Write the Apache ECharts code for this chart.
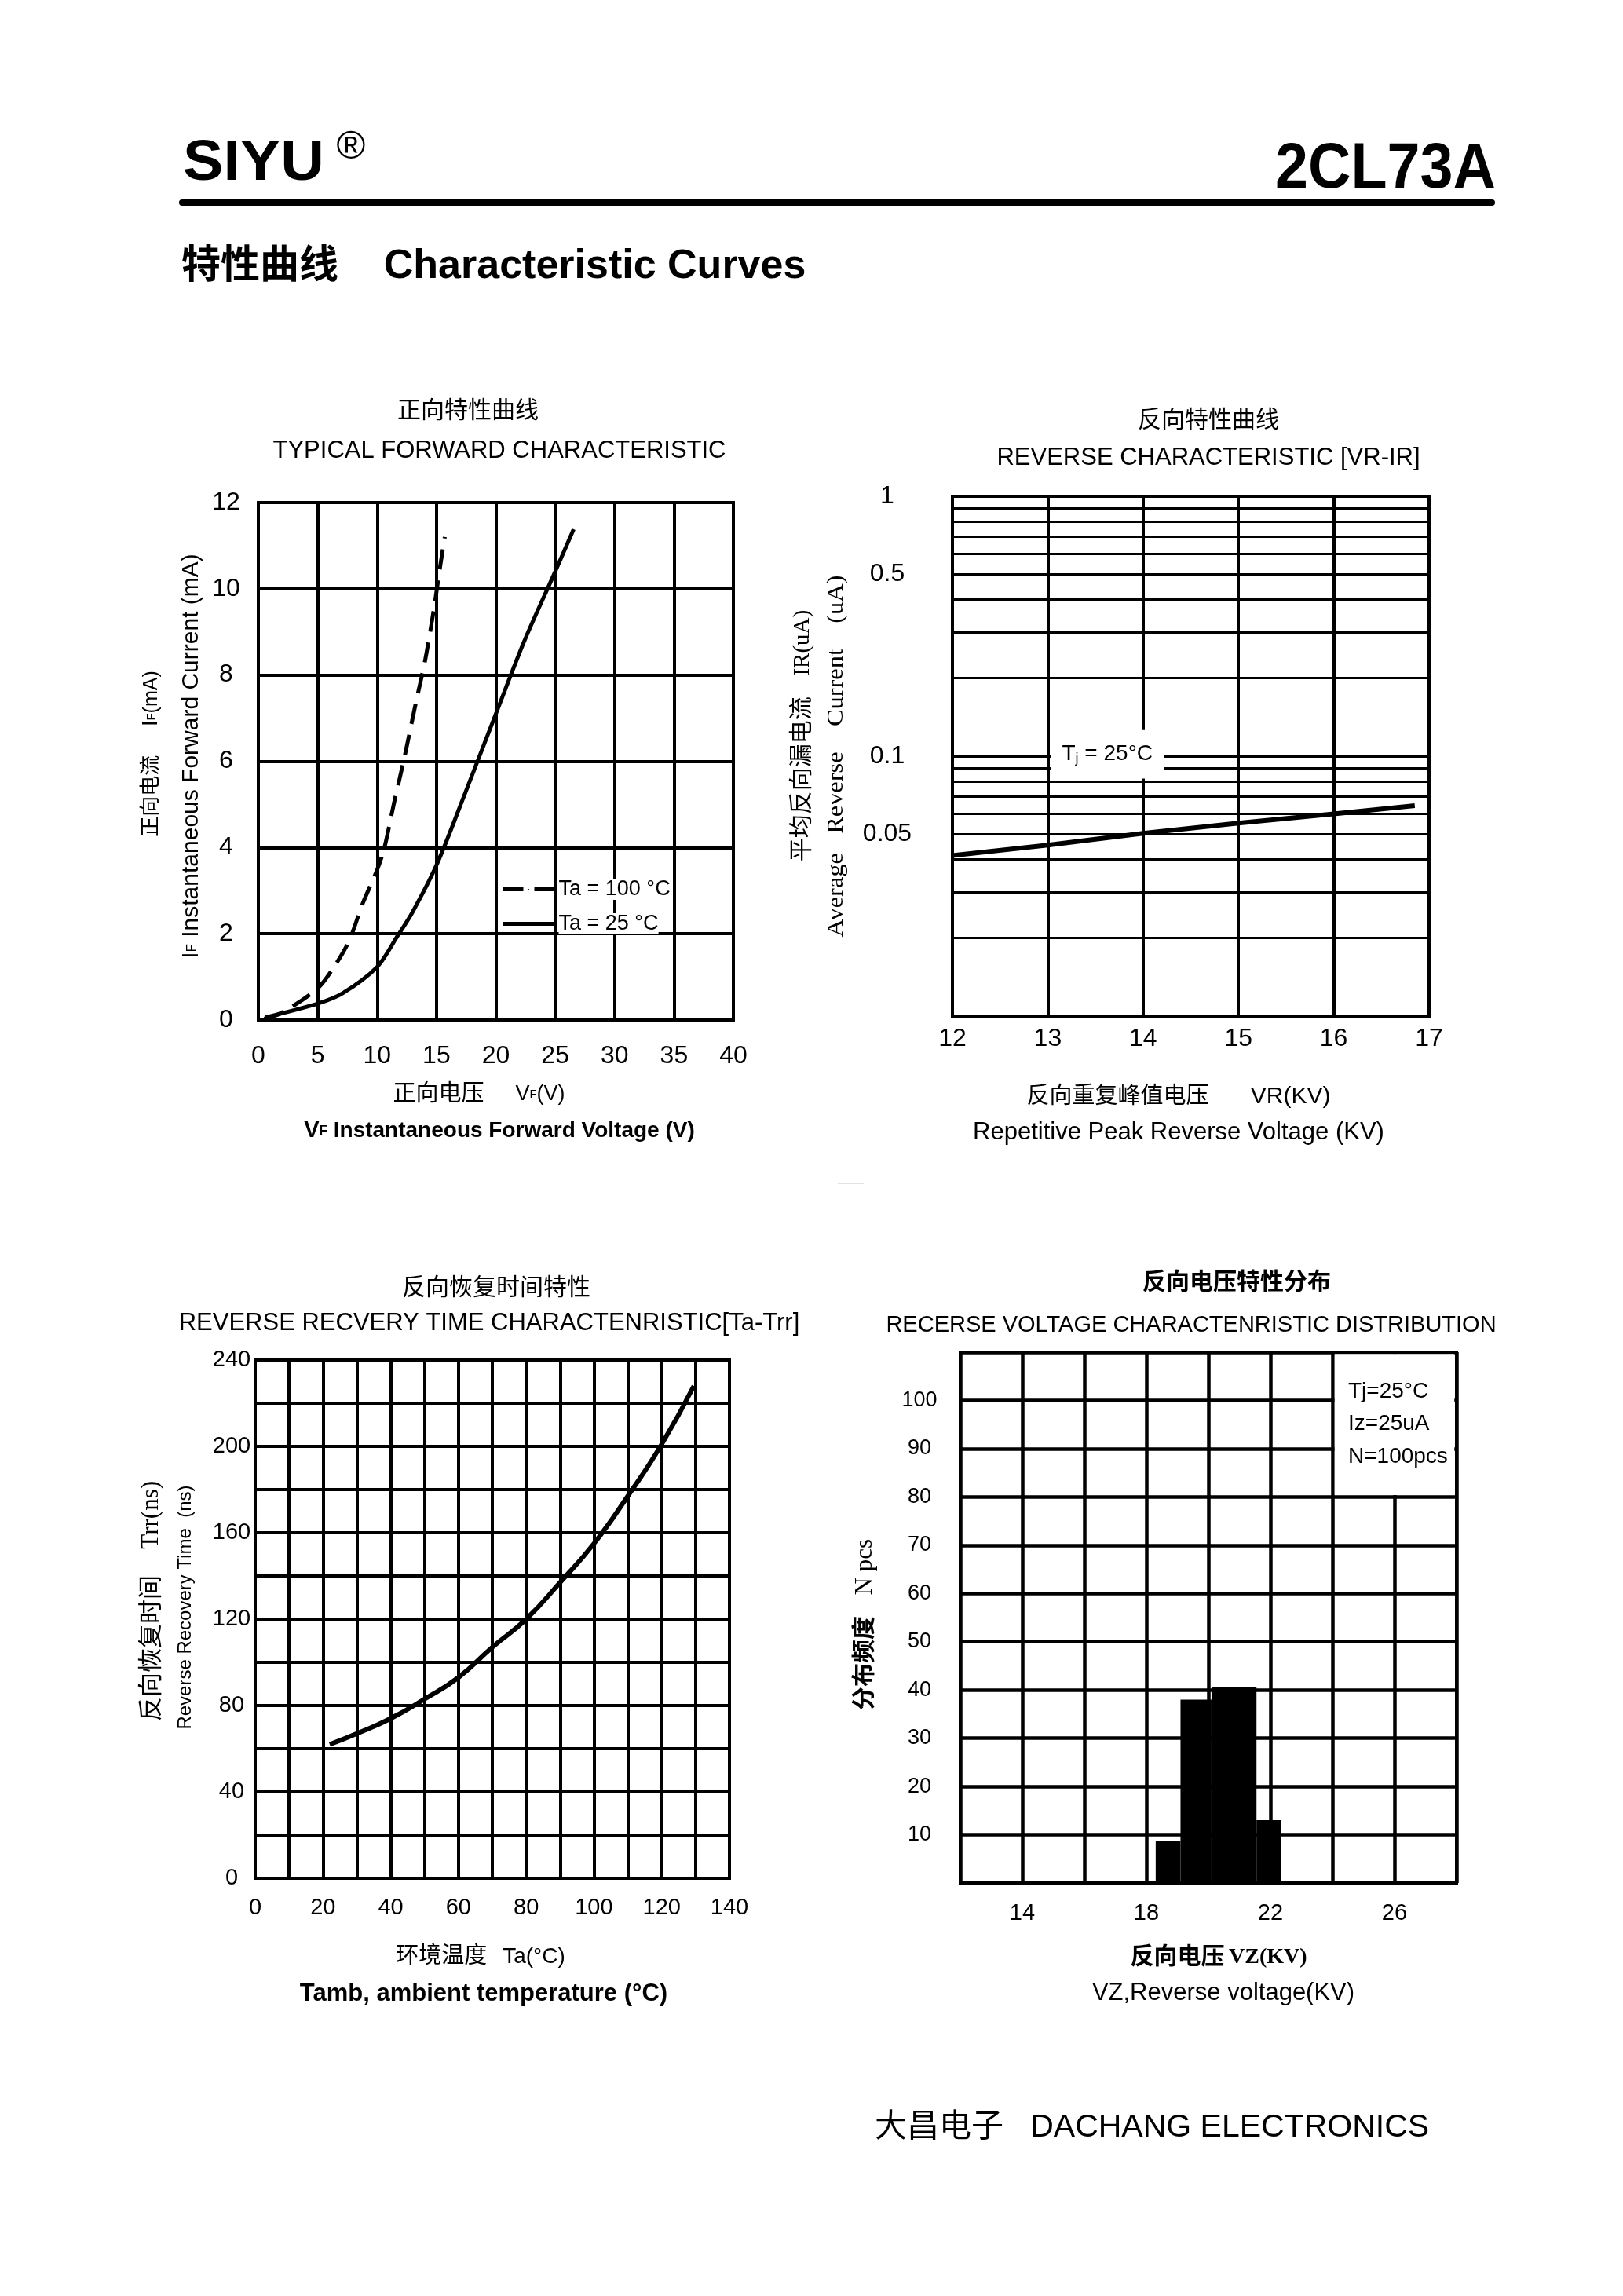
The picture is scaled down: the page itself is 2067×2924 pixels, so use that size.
<!DOCTYPE html>
<html><head><meta charset="utf-8">
<script src="https://cdn.jsdelivr.net/npm/echarts@6/dist/echarts.min.js"></script>
<style>html,body{margin:0;padding:0;background:#fff}#c{width:2067px;height:2924px}</style>
</head><body><div id="c"></div>
<script>
// ---------- Chart 1: typical forward characteristic ----------
const vf100 = [0.5, 1.9, 4.9, 6.2, 7.6, 8.8, 10.0, 10.6, 11.4, 12.3, 13.25, 14.05, 14.8, 15.3, 15.7];
const if100 = [0.03, 0.16, 0.71, 1.16, 1.81, 2.71, 3.48, 3.98, 5.0, 6.09, 7.34, 8.35, 9.56, 10.5, 11.2];
const vf25 = [0.6, 5.1, 7.1, 10.0, 11.7, 12.96, 15.0, 17.4, 20.0, 22.4, 25.0, 26.55];
const if25 = [0.06, 0.39, 0.62, 1.23, 1.94, 2.49, 3.59, 5.25, 7.1, 8.79, 10.4, 11.38];
const seriesNames1 = ['Ta = 100 °C', 'Ta = 25 °C'];

// ---------- Chart 2: reverse characteristic VR-IR ----------
const vrKV = [12, 13, 14, 15, 16, 16.85];
const irUA = [0.0415, 0.0455, 0.0505, 0.0553, 0.0600, 0.0645];
const irLabels = [0.05, 0.1, 0.5, 1];
const irGridLines = [0.01, 0.02, 0.03, 0.04, 0.05, 0.06, 0.07, 0.08, 0.09, 0.1, 0.2, 0.3, 0.4, 0.5, 0.6, 0.7, 0.8, 0.9, 1];

// ---------- Chart 3: reverse recovery time ----------
const taC = [22, 30, 40, 50, 60, 70, 80, 90, 100, 110, 120, 129.5];
const trrNs = [62, 67, 74, 83, 93, 107, 120, 137, 155, 177, 201, 228];
const taLabels = [0, 20, 40, 60, 80, 100, 120, 140];
const trrLabels = [0, 40, 80, 120, 160, 200, 240];

// ---------- Chart 4: reverse voltage distribution ----------
const vzStart = [18.3, 19.1, 20.1, 21.55];
const vzEnd = [19.1, 20.1, 21.55, 22.35];
const vzCount = [8.7, 38, 40.5, 13];
const vzLabels = [14, 18, 22, 26];
const nLabels = [10, 20, 30, 40, 50, 60, 70, 80, 90, 100];
const distNotes = ['Tj=25°C', 'Iz=25uA', 'N=100pcs'];

const SANS = '"Liberation Sans", Arial, "Noto Sans CJK SC", sans-serif';
const SERIF = '"Liberation Serif", "Times New Roman", "Noto Sans CJK SC", serif';
const NARROW = '"Liberation Sans Narrow", "Liberation Sans", Arial, sans-serif';
const BLK = '#000';

function R(size, family, weight) {
  return {fontSize: size, fontFamily: family || SANS, fontWeight: weight || 'normal', fill: BLK, color: BLK};
}
function T(x, y, text, o) {
  o = o || {};
  return {
    type: 'text', x: x, y: y, rotation: o.rot || 0, scaleX: o.sx || 1, silent: true, z: 50,
    style: {
      text: text, fill: BLK, fontSize: o.size || 28, fontFamily: o.family || SANS,
      fontWeight: o.weight || 'normal', align: o.align || 'center', verticalAlign: 'middle',
      rich: o.rich
    }
  };
}
const ROT = Math.PI / 2;

function axisBase(gi, extra) {
  return Object.assign({
    gridIndex: gi, type: 'value',
    axisLine: {show: true, onZero: false, lineStyle: {color: BLK, width: 4}},
    axisTick: {show: false},
    splitLine: {show: true, lineStyle: {color: BLK, width: 4}},
  }, extra);
}
function lbl(size, margin, extra) {
  return Object.assign({color: BLK, fontSize: size, fontFamily: SANS, margin: margin}, extra);
}

const option = {
  animation: false,
  backgroundColor: '#fff',
  textStyle: {fontFamily: SANS},
  grid: [
    {left: 329, top: 640, width: 605, height: 659, show: true, borderColor: BLK, borderWidth: 4, containLabel: false, outerBoundsMode: 'none'},
    {left: 1213, top: 632, width: 607, height: 662, show: true, borderColor: BLK, borderWidth: 4, containLabel: false, outerBoundsMode: 'none'},
    {left: 325, top: 1732, width: 604, height: 660, show: true, borderColor: BLK, borderWidth: 4, containLabel: false, outerBoundsMode: 'none'},
    {left: 1223, top: 1722, width: 632, height: 676, show: true, borderColor: BLK, borderWidth: 4, containLabel: false, outerBoundsMode: 'none'}
  ],
  xAxis: [
    axisBase(0, {min: 0, max: 40, interval: 5, axisLabel: lbl(32, 46, {verticalAlign: 'middle'})}),
    axisBase(1, {min: 12, max: 17, interval: 1, axisLabel: lbl(32, 29, {verticalAlign: 'middle'})}),
    axisBase(2, {min: 0, max: 140, interval: 10, axisLabel: lbl(29, 38, {verticalAlign: 'middle', customValues: taLabels})}),
    axisBase(3, {min: 12, max: 28, interval: 2, splitLine: {show: true, lineStyle: {color: BLK, width: 4.5}},
      axisLabel: lbl(29, 39, {verticalAlign: 'middle', customValues: vzLabels})})
  ],
  yAxis: [
    axisBase(0, {min: 0, max: 12, interval: 2, axisLabel: lbl(32, 41, {align: 'center'})}),
    axisBase(1, {type: 'log', logBase: 10, min: 0.01, max: 1,
      axisTick: {show: false, customValues: irGridLines},
      splitLine: {show: true, lineStyle: {color: BLK, width: 3}},
      axisLabel: lbl(32, 83, {align: 'center', customValues: irLabels,
        formatter: function (v) { return String(+(+v).toPrecision(3)); }})}),
    axisBase(2, {min: 0, max: 240, interval: 20, axisLabel: lbl(29, 30, {align: 'center', customValues: trrLabels})}),
    axisBase(3, {min: 0, max: 110, interval: 10, splitLine: {show: true, lineStyle: {color: BLK, width: 4.5}},
      axisLabel: lbl(27, 52, {align: 'center', customValues: nLabels})})
  ],
  legend: {
    show: true, orient: 'vertical', left: 633, top: 1114, itemWidth: 66, itemHeight: 1.5, itemGap: 17,
    selectedMode: false, data: seriesNames1,
    lineStyle: {width: 5, color: BLK, type: 'inherit'},
    itemStyle: {color: BLK, borderWidth: 0},
    textStyle: {fontSize: 27, color: BLK, fontFamily: SANS, backgroundColor: '#fff'}
  },
  series: [
    {name: seriesNames1[0], type: 'line', xAxisIndex: 0, yAxisIndex: 0, smooth: 0.3, symbol: 'none',
      lineStyle: {color: BLK, width: 5, type: [26, 14]}, itemStyle: {color: BLK},
      data: vf100.map((v, i) => [v, if100[i]])},
    {name: seriesNames1[1], type: 'line', xAxisIndex: 0, yAxisIndex: 0, smooth: 0.3, symbol: 'none',
      lineStyle: {color: BLK, width: 5}, itemStyle: {color: BLK},
      data: vf25.map((v, i) => [v, if25[i]])},
    {name: 'IR', type: 'line', xAxisIndex: 1, yAxisIndex: 1, symbol: 'none',
      lineStyle: {color: BLK, width: 6}, itemStyle: {color: BLK},
      data: vrKV.map((v, i) => [v, irUA[i]]),
      markArea: {silent: true, itemStyle: {color: '#fff'},
        label: {show: true, position: 'inside', formatter: '{t|T}{j|j}{t| = 25°C}',
          rich: {t: {fontSize: 28, fontFamily: NARROW, color: BLK}, j: {fontSize: 18, fontFamily: NARROW, color: BLK, verticalAlign: 'bottom'}}},
        data: [[{xAxis: 13.03, yAxis: 0.126}, {xAxis: 14.22, yAxis: 0.082}]]}},
    {name: 'Trr', type: 'line', xAxisIndex: 2, yAxisIndex: 2, smooth: true, symbol: 'none',
      lineStyle: {color: BLK, width: 6}, itemStyle: {color: BLK},
      data: taC.map((v, i) => [v, trrNs[i]])},
    {name: 'N', type: 'custom', xAxisIndex: 3, yAxisIndex: 3,
      data: vzCount.map((c, i) => [vzStart[i], vzEnd[i], c]),
      renderItem: function (params, api) {
        const p0 = api.coord([api.value(0), api.value(2)]);
        const p1 = api.coord([api.value(1), 0]);
        return {type: 'rect', shape: {x: p0[0], y: p0[1], width: p1[0] - p0[0], height: p1[1] - p0[1]},
          style: {fill: BLK}};
      }},
    {name: 'noteBox', type: 'line', xAxisIndex: 3, yAxisIndex: 3, data: [], symbol: 'none',
      markArea: {silent: true, itemStyle: {color: '#fff'}, label: {show: false},
        data: [[{xAxis: 24.07, yAxis: 109.65}, {xAxis: 27.93, yAxis: 80.4}]]}}
  ],
  graphic: [
    // header
    T(233, 209, 'SIYU', {size: 72, weight: 'bold', align: 'left', sx: 1.07}),
    T(447, 188, '®', {size: 50}),
    T(1905, 216, '2CL73A', {size: 82, weight: 'bold', align: 'right', sx: 0.92}),
    {type: 'line', silent: true, shape: {x1: 232, y1: 258, x2: 1900, y2: 258},
      style: {stroke: BLK, lineWidth: 8, lineCap: 'round'}},
    T(231, 340, '{c|特性曲线}{e|    Characteristic Curves}', {align: 'left',
      rich: {c: R(50, SANS, 'bold'), e: R(52, SANS, 'bold')}}),
    {type: 'line', silent: true, shape: {x1: 1067, y1: 1507, x2: 1100, y2: 1507},
      style: {stroke: '#d8d8d8', lineWidth: 1.5}},

    // chart 1 texts
    T(596, 524, '正向特性曲线', {size: 30}),
    T(636, 574, 'TYPICAL FORWARD CHARACTERISTIC', {size: 31}),
    T(193, 960, '{c|正向电流}{s|      }{i|I}{b|F}{m|(mA)}', {rot: ROT,
      rich: {c: R(26), s: R(22), i: R(27), b: R(15), m: R(25)}}),
    T(244, 963, '{i|I}{b|F}{n| Instantaneous Forward Current (mA)}', {rot: ROT,
      rich: {i: R(30), b: R(17), n: R(30)}}),
    T(610, 1394, '{c|正向电压}{s|      }{v|V}{b|F}{v|(V)}', {
      rich: {c: R(29), s: R(24), v: R(27), b: R(15)}}),
    T(636, 1440, '{v|V}{b|F}{n| Instantaneous Forward Voltage (V)}', {
      rich: {v: R(29, SANS, 'bold'), b: R(17, SANS, 'bold'), n: R(28, SANS, 'bold')}}),

    // chart 2 texts
    T(1539, 536, '反向特性曲线', {size: 30}),
    T(1539, 583, 'REVERSE CHARACTERISTIC [VR-IR]', {size: 31}),
    T(1022, 937, '{c|平均反向漏电流}{s|    }{m|IR(uA)}', {rot: ROT,
      rich: {c: R(30), s: R(24), m: R(29, SERIF)}}),
    T(1065, 963, 'Average   Reverse    Current    (uA)', {rot: ROT, size: 30, family: SERIF, sx: 1.08}),
    T(1501, 1397, '{c|反向重复峰值电压}{s|        }{m|VR(KV)}', {
      rich: {c: R(29), s: R(24), m: R(30)}}),
    T(1501, 1442, 'Repetitive Peak Reverse Voltage (KV)', {size: 31}),

    // chart 3 texts
    T(632, 1641, '反向恢复时间特性', {size: 30}),
    T(623, 1685, 'REVERSE RECVERY TIME CHARACTENRISTIC[Ta-Trr]', {size: 31}),
    T(193, 2039, '{c|反向恢复时间}{s|     }{m|Trr(ns)}', {rot: ROT,
      rich: {c: R(31), s: R(24), m: R(31, SERIF)}}),
    T(236, 2047, 'Reverse Recovery Time  (ns)', {rot: ROT, size: 24}),
    T(612, 2492, '{c|环境温度}{s|   }{m|Ta(°C)}', {rich: {c: R(29), s: R(24), m: R(28)}}),
    T(616, 2539, 'Tamb, ambient temperature (°C)', {size: 31, weight: 'bold'}),

    // chart 4 texts
    T(1575, 1634, '反向电压特性分布', {size: 30, weight: 'bold'}),
    T(1517, 1688, 'RECERSE VOLTAGE CHARACTENRISTIC DISTRIBUTION', {size: 29}),
    T(1102, 2069, '{c|分布频度}{s|    }{m|N pcs}', {rot: ROT,
      rich: {c: R(30, SANS, 'bold'), s: R(24), m: R(31, SERIF)}}),
    T(1552, 2493, '{c|反向电压}{s| }{m|VZ(KV)}', {rich: {c: R(30, SANS, 'bold'), s: R(20), m: R(28, SERIF, 'bold')}}),
    T(1558, 2538, 'VZ,Reverse voltage(KV)', {size: 31}),
    T(1717, 1772, distNotes[0], {size: 28, align: 'left'}),
    T(1717, 1813, distNotes[1], {size: 28, align: 'left'}),
    T(1717, 1855, distNotes[2], {size: 28, align: 'left'}),

    // footer
    T(1114, 2710, '{c|大昌电子}{s|   }{e|DACHANG ELECTRONICS}', {align: 'left',
      rich: {c: R(41), s: R(41), e: R(41)}})
  ]
};

const chart = echarts.init(document.getElementById('c'), null, {renderer: 'canvas', width: 2067, height: 2924});
chart.setOption(option);
</script></body></html>
